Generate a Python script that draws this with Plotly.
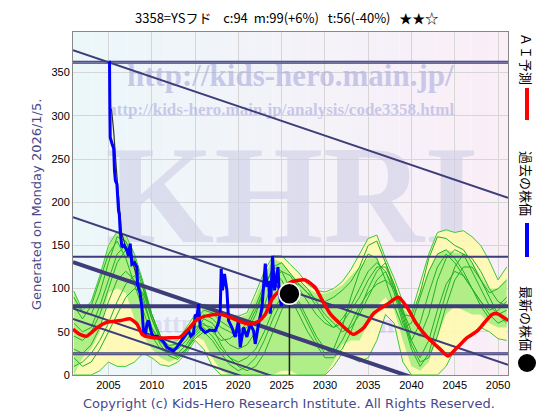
import plotly.graph_objects as go

# ---------------- data ----------------
years = list(range(2001, 2052))

yellow_hi = [97, 75, 85, 115, 150, 166, 162, 140, 108, 70,
             45, 38, 40, 55, 70, 82, 80, 70, 70, 68,
             72, 95, 120, 138, 138, 128, 118, 105, 98, 96,
             100, 108, 122, 140, 158, 162, 135, 112, 85, 72,
             105, 140, 165, 168, 165, 167, 160, 150, 132, 110,
             125]
yellow_lo = [0, 0, 0, 5, 15, 10, 10, 15, 25, 20,
             12, 10, 15, 25, 40, 30, 10, 0, 0, 0,
             0, 0, 0, 0, 0, 0, 0, 0, 0, 0,
             10, 25, 20, 15, 20, 40, 70, 60, 15, 0,
             0, 0, 0, 10, 30, 40, 45, 55, 50, 42,
             40]
green_hi = [97, 75, 85, 115, 148, 166, 160, 138, 105, 68,
            45, 36, 38, 50, 68, 80, 78, 68, 68, 66,
            70, 90, 115, 135, 130, 118, 108, 100, 95, 94,
            98, 104, 115, 125, 135, 135, 118, 100, 78, 65,
            95, 120, 140, 145, 142, 140, 130, 115, 100, 100,
            110]
green_lo = [0, 20, 30, 50, 95, 100, 95, 65, 45, 30,
            20, 15, 20, 30, 45, 40, 20, 5, 0, 0,
            0, 0, 0, 0, 5, 5, 0, 0, 0, 0,
            15, 35, 40, 40, 60, 80, 90, 75, 40, 10,
            5, 15, 45, 70, 80, 75, 70, 70, 60, 55,
            55]

sim_1 = [90, 72, 70, 95, 130, 160, 155, 130, 100, 65,
         42, 34, 36, 48, 62, 75, 72, 62, 55, 50,
         55, 75, 100, 125, 130, 118, 105, 95, 88, 85,
         90, 98, 108, 125, 150, 155, 130, 100, 70, 68,
         95, 135, 160, 158, 150, 145, 130, 110, 95, 100,
         110]
sim_2 = [60, 50, 55, 80, 110, 140, 150, 135, 105, 70,
         45, 30, 25, 35, 50, 65, 60, 45, 35, 30,
         35, 50, 80, 110, 120, 115, 100, 85, 70, 60,
         55, 65, 80, 100, 120, 130, 120, 95, 60, 40,
         60, 95, 125, 140, 130, 115, 100, 85, 75, 80,
         90]
sim_3 = [30, 25, 35, 55, 85, 110, 120, 110, 85, 55,
         35, 22, 18, 28, 45, 55, 45, 30, 20, 15,
         20, 30, 50, 75, 90, 95, 85, 65, 45, 30,
         25, 40, 60, 80, 95, 105, 110, 100, 75, 40,
         20, 40, 75, 105, 120, 115, 100, 85, 70, 60,
         65]
sim_4 = [10, 15, 25, 40, 60, 85, 105, 115, 100, 70,
         45, 28, 20, 30, 42, 50, 40, 25, 12, 5,
         10, 20, 40, 65, 85, 100, 105, 95, 80, 65,
         55, 60, 75, 90, 110, 125, 125, 105, 70, 35,
         15, 20, 45, 80, 110, 125, 125, 110, 90, 70,
         60]
sim_5 = [80, 65, 80, 110, 140, 155, 135, 105, 75, 45,
         30, 25, 32, 45, 60, 70, 65, 55, 50, 45,
         50, 70, 100, 125, 120, 100, 80, 60, 40, 25,
         30, 55, 90, 120, 140, 135, 110, 80, 55, 60,
         90, 120, 140, 145, 135, 120, 100, 80, 65, 75,
         85]
sim_6 = [45, 40, 50, 70, 100, 130, 145, 125, 90, 55,
         38, 32, 30, 40, 55, 60, 50, 40, 42, 50,
         60, 80, 105, 120, 110, 90, 70, 50, 35, 20,
         20, 30, 50, 75, 100, 120, 130, 105, 75, 50,
         45, 70, 110, 135, 145, 140, 120, 100, 80, 70,
         75]
sim_7 = [20, 10, 15, 30, 50, 70, 90, 100, 95, 65,
         40, 25, 22, 30, 48, 58, 55, 35, 20, 10,
         5, 10, 25, 50, 75, 95, 110, 100, 85, 70,
         60, 50, 55, 70, 90, 110, 120, 100, 65, 30,
         10, 25, 60, 95, 125, 140, 135, 120, 100, 85,
         80]
simulations = [sim_1, sim_2, sim_3, sim_4, sim_5, sim_6, sim_7]

past_x = [2005.05, 2005.12, 2005.15, 2005.2, 2005.4, 2005.6, 2005.69, 2005.8, 2005.97, 2006.05,
          2006.16, 2006.25, 2006.35, 2006.55, 2006.8, 2007.13, 2007.3, 2007.51, 2007.7, 2008.0,
          2008.28, 2008.35, 2008.66, 2008.86, 2009.04, 2009.24, 2009.45, 2009.62, 2009.82, 2010.0,
          2010.2, 2010.6, 2010.97, 2011.4, 2011.75, 2012.1, 2012.51, 2012.9, 2013.3, 2013.67,
          2014.0, 2014.25, 2014.5, 2014.82, 2015.02, 2015.22, 2015.4, 2015.6, 2016.18, 2016.7,
          2017.33, 2017.7, 2017.9, 2018.02, 2018.17, 2018.4, 2018.68, 2018.87, 2019.26, 2019.64,
          2020.02, 2020.22, 2020.6, 2020.99, 2021.38, 2021.76, 2021.95, 2022.34, 2022.73, 2023.11,
          2023.31, 2023.5, 2023.69, 2023.95, 2024.18, 2024.35, 2024.58, 2024.73, 2024.96, 2025.3,
          2025.6, 2025.88]
past_y = [362, 362, 320, 275, 268, 262, 237, 225, 221, 200,
          190, 186, 167, 148, 150, 144, 138, 152, 128, 130,
          125, 105, 94, 78, 51, 44, 60, 63, 55, 48,
          44, 45, 42, 38, 32, 30, 28, 32, 38, 44,
          48, 51, 45, 48, 70, 67, 82, 55, 49, 52,
          51, 60, 71, 123, 98, 117, 98, 63, 55, 44,
          63, 32, 55, 44, 59, 51, 36, 59, 78, 129,
          102, 109, 71, 138, 98, 109, 125, 94, 80, 90,
          92, 94]

monthly_x = [2005.35, 2005.6, 2005.9, 2006.2, 2006.5, 2007.0, 2007.5, 2008.3]
monthly_y = [308, 282, 240, 198, 165, 148, 142, 112]

ai_x = [2000.9, 2001.7, 2002.5, 2003.7, 2004.8, 2006.4, 2007.5, 2008.3, 2008.9, 2010.2,
        2012.1, 2013.3, 2014.4, 2015.2, 2016.6, 2018.1, 2019.2, 2020.2, 2021.2, 2022.3,
        2023.1, 2023.9, 2024.8, 2026.2, 2027.7, 2028.9, 2029.5, 2030.6, 2031.8, 2033.3,
        2034.5, 2035.6, 2037.2, 2038.5, 2039.5, 2040.6, 2041.8, 2043.3, 2044.2, 2045.3,
        2046.4, 2047.6, 2048.3, 2049.3, 2049.9, 2051.2]
ai_y = [53, 47, 45, 55, 61, 63, 65, 59, 47, 43,
        43, 44, 55, 64, 69, 70, 66, 62, 59, 62,
        70, 88, 98, 108, 110, 101, 90, 71, 59, 47,
        55, 71, 82, 90, 78, 59, 44, 30, 22, 32,
        43, 51, 59, 70, 71, 63]

latest_year = 2025.9
latest_price = 94

level_lines = [362, 137, 79.5, 24.5]
channel_start = [376, 182.6, 130.5, 77, 65]   # value at x_min
channel_slope = -3.4                           # per year

x_min, x_max = 2000.9, 2051.15
y_min, y_max = 0, 397

title_text = ("3358=YSフド\u00a0\u00a0\u00a0\u00a0c:94\u00a0\u00a0m:99(+6%)"
              "\u00a0\u00a0\u00a0t:56(-40%)\u00a0\u00a0\u00a0★★☆")

# ---------------- figure ----------------
NAVY = "#3d3d7a"
fig = go.Figure()

# watermarks (drawn first so they sit beneath data)
wm = [
    ("KHRI", 2026.2, 194, "Liberation Serif", 140, "rgba(205,205,228,0.6)"),
    ("http://kids-hero.main.jp/", 2026.0, 343, "Liberation Serif", 31, "rgba(170,170,222,0.6)"),
    ("http://kids-hero.main.jp/analysis/code3358.html", 2024.9, 306, "Liberation Serif", 17, "rgba(170,170,222,0.6)"),
    ("http://kids-hero.main.jp/", 2026.0, 57, "Liberation Serif", 27, "rgba(180,180,225,0.35)"),
]
for t, x, y, fam, sz, col in wm:
    fig.add_trace(go.Scatter(x=[x], y=[y], mode="text", text=[t],
                             textfont=dict(family=fam, size=sz, color=col, weight="bold"),
                             hoverinfo="skip", showlegend=False))

# yellow envelope
fig.add_trace(go.Scatter(x=years, y=yellow_lo, mode="lines", line=dict(width=0),
                         showlegend=False, hoverinfo="skip"))
fig.add_trace(go.Scatter(x=years, y=yellow_hi, mode="lines", line=dict(width=0),
                         fill="tonexty", fillcolor="rgba(255,250,175,0.9)",
                         showlegend=False, hoverinfo="skip"))
# green band
fig.add_trace(go.Scatter(x=years, y=green_lo, mode="lines", line=dict(width=0),
                         showlegend=False, hoverinfo="skip"))
fig.add_trace(go.Scatter(x=years, y=green_hi, mode="lines", line=dict(width=0),
                         fill="tonexty", fillcolor="rgba(165,236,130,0.88)",
                         showlegend=False, hoverinfo="skip"))
# envelope edges + simulations
for edge in (yellow_hi, yellow_lo):
    fig.add_trace(go.Scatter(x=years, y=edge, mode="lines",
                             line=dict(color="#3cc83c", width=1),
                             showlegend=False, hoverinfo="skip"))
for s in simulations:
    fig.add_trace(go.Scatter(x=years, y=s, mode="lines",
                             line=dict(color="#22b022", width=1),
                             showlegend=False, hoverinfo="skip"))

# horizontal level lines
for i, lv in enumerate(level_lines):
    w = 4 if i == 2 else (3 if i in (0, 3) else 2)
    fig.add_trace(go.Scatter(x=[x_min, x_max], y=[lv, lv], mode="lines",
                             line=dict(color=NAVY, width=w),
                             showlegend=False, hoverinfo="skip"))
    if i in (0, 3):
        fig.add_trace(go.Scatter(x=[x_min, x_max], y=[lv, lv], mode="lines",
                                 line=dict(color="#8a8ab8", width=1),
                                 showlegend=False, hoverinfo="skip"))
# channel lines
for i, c0 in enumerate(channel_start):
    c1 = c0 + channel_slope * (x_max - x_min)
    fig.add_trace(go.Scatter(x=[x_min, x_max], y=[c0, c1], mode="lines",
                             line=dict(color=NAVY, width=4 if i == 2 else 2),
                             showlegend=False, hoverinfo="skip"))

# latest marker vertical line
fig.add_trace(go.Scatter(x=[latest_year, latest_year], y=[0, latest_price], mode="lines",
                         line=dict(color="#222222", width=1.5),
                         showlegend=False, hoverinfo="skip"))
# monthly (thin black) and past prices (blue)
fig.add_trace(go.Scatter(x=monthly_x, y=monthly_y, mode="lines",
                         line=dict(color="#333333", width=1.2),
                         showlegend=False, hoverinfo="skip"))
fig.add_trace(go.Scatter(x=past_x, y=past_y, mode="lines",
                         line=dict(color="#0000ff", width=3),
                         showlegend=False, hoverinfo="skip"))
# AI prediction
fig.add_trace(go.Scatter(x=ai_x, y=ai_y, mode="lines",
                         line=dict(color="#ff0000", width=3.5, shape="spline", smoothing=0.6),
                         showlegend=False, hoverinfo="skip"))
# latest price dot
fig.add_trace(go.Scatter(x=[latest_year], y=[latest_price], mode="markers",
                         marker=dict(color="black", size=21, line=dict(color="white", width=1.5)),
                         showlegend=False, hoverinfo="skip"))

# background gradient (cyan -> pink)
shapes = []
n = 24
c_left = (236, 247, 250)
c_right = (250, 238, 247)
for k in range(n):
    f = k / (n - 1)
    col = "rgb(%d,%d,%d)" % tuple(round(a + (b - a) * f) for a, b in zip(c_left, c_right))
    shapes.append(dict(type="rect", xref="x", yref="paper",
                       x0=x_min + (x_max - x_min) * k / n,
                       x1=x_min + (x_max - x_min) * (k + 1) / n,
                       y0=0, y1=1, fillcolor=col, line=dict(width=0), layer="below"))

# right legend symbols
def px_x(p):
    return (p - 73) / 435.0
def px_y(p):
    return (375 - p) / 343.0

shapes.append(dict(type="line", xref="paper", yref="paper", x0=px_x(527), x1=px_x(527),
                   y0=px_y(88), y1=px_y(120), line=dict(color="red", width=4)))
shapes.append(dict(type="line", xref="paper", yref="paper", x0=px_x(527), x1=px_x(527),
                   y0=px_y(223), y1=px_y(257), line=dict(color="blue", width=4)))
shapes.append(dict(type="circle", xref="paper", yref="paper", x0=px_x(518), x1=px_x(536),
                   y0=px_y(372), y1=px_y(354), fillcolor="black", line=dict(color="black", width=0)))

annotations = [
    dict(text=title_text, x=px_x(286), y=px_y(18), xref="paper", yref="paper",
         showarrow=False, xanchor="center", yanchor="middle",
         font=dict(family="Noto Sans CJK JP, DejaVu Sans", size=13, color="black")),
    dict(text="Generated on Monday 2026/1/5.", x=px_x(37), y=px_y(205), xref="paper", yref="paper",
         showarrow=False, textangle=-90, xanchor="center", yanchor="middle",
         font=dict(family="DejaVu Sans", size=13, color="#4a4a8a")),
    dict(text="Copyright (c) Kids-Hero Research Institute. All Rights Reserved.",
         x=px_x(289), y=px_y(403), xref="paper", yref="paper",
         showarrow=False, xanchor="center", yanchor="middle",
         font=dict(family="DejaVu Sans", size=13, color="#4a4a8a")),
    dict(text="ＡＩ予測", x=px_x(527), y=px_y(59), xref="paper", yref="paper",
         showarrow=False, textangle=90, xanchor="center", yanchor="middle",
         font=dict(family="Noto Sans CJK JP", size=13, color="black")),
    dict(text="過去の株価", x=px_x(527), y=px_y(183), xref="paper", yref="paper",
         showarrow=False, textangle=90, xanchor="center", yanchor="middle",
         font=dict(family="Noto Sans CJK JP", size=13, color="black")),
    dict(text="最新の株価", x=px_x(527), y=px_y(318), xref="paper", yref="paper",
         showarrow=False, textangle=90, xanchor="center", yanchor="middle",
         font=dict(family="Noto Sans CJK JP", size=13, color="black")),
]

fig.update_layout(
    width=560, height=420,
    margin=dict(l=73, r=52, t=32, b=45),
    paper_bgcolor="white", plot_bgcolor="white",
    shapes=shapes, annotations=annotations,
    showlegend=False,
    xaxis=dict(range=[x_min, x_max], tick0=2005, dtick=5, showgrid=True,
               gridcolor="#d6d6d6", gridwidth=1, zeroline=False,
               showline=True, mirror=True, linecolor="#888888", linewidth=1,
               ticks="", tickfont=dict(family="Liberation Sans, Arial", size=11, color="black")),
    yaxis=dict(range=[y_min, y_max], tick0=0, dtick=50, showgrid=True,
               gridcolor="#d6d6d6", gridwidth=1, zeroline=False,
               showline=True, mirror=True, linecolor="#888888", linewidth=1,
               ticks="", tickfont=dict(family="Liberation Sans, Arial", size=11, color="black")),
)

fig.write_html("out.html", config={"displayModeBar": False},
               post_script="document.body.style.margin='0';")
